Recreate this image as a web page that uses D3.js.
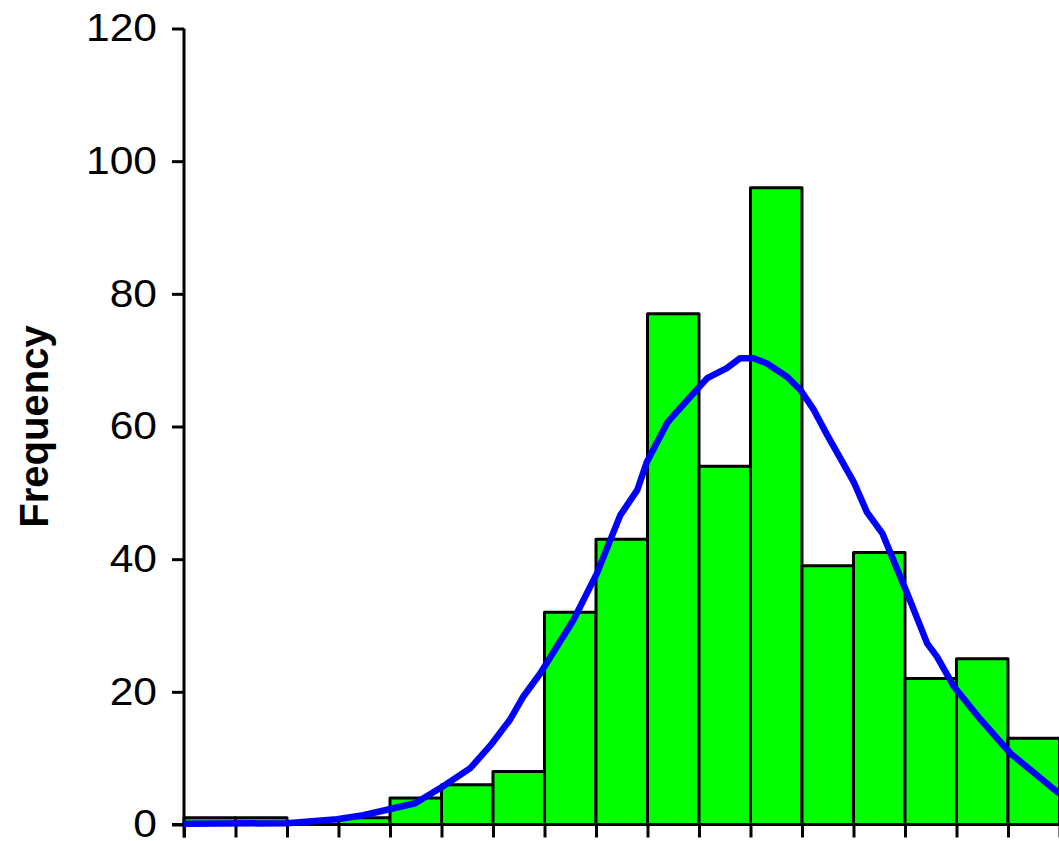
<!DOCTYPE html>
<html>
<head>
<meta charset="utf-8">
<script src="https://cdn.jsdelivr.net/npm/d3@7"></script>
<style>
  html, body { margin: 0; padding: 0; background: #ffffff; }
  svg { display: block; }
</style>
</head>
<body>
<svg id="chart" width="1059" height="841"></svg>
<script>
// Histogram bins (bin index) and their counts
const binIndex = [0, 1, 2, 3, 4, 5, 6, 7, 8, 9, 10, 11, 12, 13, 14, 15, 16];
const frequency = [1, 1, 0, 1, 4, 6, 8, 32, 43, 77, 54, 96, 39, 41, 22, 25, 13];

// Fitted normal curve, sampled along the bin axis
const curveX = [0, 2.0, 2.97, 3.48, 4.49, 5.04, 5.56, 5.98, 6.33, 6.59, 6.92, 7.56, 8.02, 8.47, 8.80, 8.99,
                9.38, 9.51, 10.16, 10.54, 10.80, 11.06, 11.32, 11.71, 11.97, 12.23, 12.49, 13.0, 13.26,
                13.56, 13.72, 14.04, 14.43, 14.62, 14.95, 15.47, 16.05, 16.99];
const curveY = [0.1, 0.2, 0.8, 1.4, 3.2, 5.8, 8.5, 12.2, 15.8, 19.3, 22.8, 30.8, 37.9, 46.6, 50.4, 54.7,
                60.5, 61.7, 67.3, 68.8, 70.3, 70.3, 69.5, 67.5, 65.5, 62.5, 58.7, 51.7, 47.1,
                43.9, 40.9, 34.9, 27.3, 25.3, 20.8, 15.8, 10.7, 4.7];

const yTicks = [0, 20, 40, 60, 80, 100, 120];

const svg = d3.select("#chart");

const x = d3.scaleLinear().domain([0, 17]).range([184, 1059.5]);
const y = d3.scaleLinear().domain([0, 120]).range([824.5, 28.5]);

// Bars
svg.append("g")
  .selectAll("rect")
  .data(binIndex.filter((d, i) => frequency[i] > 0))
  .join("rect")
  .attr("x", d => x(d))
  .attr("y", d => y(frequency[d]))
  .attr("width", d => x(d + 1) - x(d))
  .attr("height", d => y(0) - y(frequency[d]))
  .attr("fill", "#00ff00")
  .attr("stroke", "#000000")
  .attr("stroke-width", 3)
  .attr("stroke-linejoin", "round");

// X axis (ticks at bin edges, no labels)
const xAxis = svg.append("g")
  .attr("transform", `translate(0,${y(0)})`)
  .call(d3.axisBottom(x).tickValues(d3.range(0, 18)).tickSize(13).tickSizeOuter(0).tickFormat(""));
xAxis.select(".domain").attr("d", `M172,0H1059`);

// Y axis
const yAxis = svg.append("g")
  .attr("transform", `translate(${x(0)},0)`)
  .call(d3.axisLeft(y).tickValues(yTicks).tickSize(12).tickSizeOuter(0).tickPadding(14));
yAxis.select(".domain").attr("d", `M0,${y(120)}V${y(0) + 13}`);

[xAxis, yAxis].forEach(g => {
  g.selectAll(".domain, .tick line")
    .attr("stroke", "#000000")
    .attr("stroke-width", 3);
});

// Tick labels are set in a slightly widened face
const widen = 1.12;
yAxis.selectAll(".tick text")
  .attr("font-family", "Liberation Sans, Arial, sans-serif")
  .attr("font-size", 38)
  .attr("fill", "#000000")
  .attr("x", -27 / widen)
  .attr("transform", `scale(${widen},1)`);

// Normal curve
const line = d3.line()
  .x((d, i) => x(curveX[i]))
  .y((d, i) => y(curveY[i]));
svg.append("path")
  .datum(curveX)
  .attr("d", line)
  .attr("fill", "none")
  .attr("stroke", "#0000ff")
  .attr("stroke-width", 6.5)
  .attr("stroke-linejoin", "round");

// Y axis title
svg.append("text")
  .attr("transform", `translate(48,${y(60)}) rotate(-90)`)
  .attr("text-anchor", "middle")
  .attr("font-family", "Liberation Sans, Arial, sans-serif")
  .attr("font-weight", "bold")
  .attr("font-size", 40)
  .attr("fill", "#000000")
  .text("Frequency");
</script>
</body>
</html>
